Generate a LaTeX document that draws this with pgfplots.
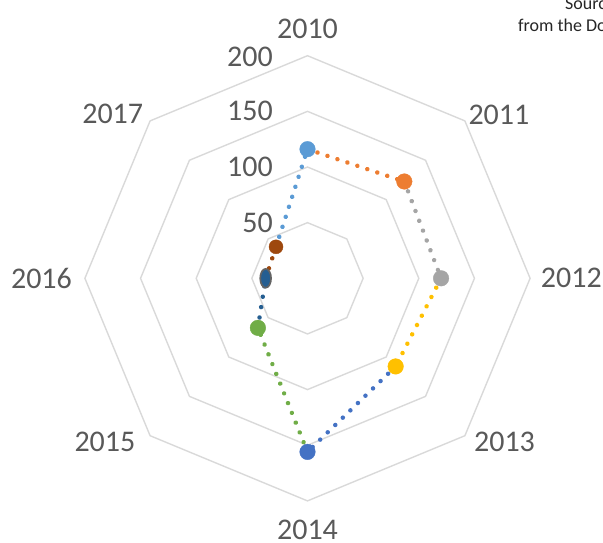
\documentclass[border=0pt]{standalone}
\usepackage{pgfplots}
\pgfplotsset{compat=1.18}
\usepackage{pgfplotstable}
\usepackage{fontspec}
\setmainfont{Carlito}
\definecolor{txt}{HTML}{595959}
\definecolor{gridc}{HTML}{D9D9D9}
\definecolor{ca}{HTML}{5B9BD5}
\definecolor{cb}{HTML}{ED7D31}
\definecolor{cc}{HTML}{A5A5A5}
\definecolor{cd}{HTML}{FFC000}
\definecolor{ce}{HTML}{4472C4}
\definecolor{cf}{HTML}{70AD47}
\definecolor{cg}{HTML}{255E91}
\definecolor{ch}{HTML}{9E480E}
\definecolor{ci}{HTML}{636363}
\pgfplotstableread{
a r
90 116
45 123
0 120
-45 112
-90 156
-135 63
180 37.6
135 40
90 116
}\data
\begin{document}
\begin{tikzpicture}[lab/.style={font=\fontsize{30bp}{36bp}\selectfont, text=txt, inner sep=0pt}]
\useasboundingbox (-307.5bp,-264.7bp) rectangle (295.5bp,278.3bp);
\begin{axis}[x=1.113bp,y=1.113bp,xmin=-220,xmax=220,ymin=-220,ymax=220,
  hide axis, clip=false, anchor=origin, at={(0,0)},
  sel/.style 2 args={x filter/.expression={(\coordindex<#1 || \coordindex>#2) ? nan : x}},
  seg/.style={line width=4.5bp, line cap=round, dash pattern=on 0.01bp off 10.5bp, no markers},
  pt/.style={only marks, mark=*, mark size=7.8bp},
  table/x expr=\thisrow{r}*cos(\thisrow{a}),
  table/y expr=\thisrow{r}*sin(\thisrow{a})]
\pgfplotsinvokeforeach{50,100,150,200}{
  \draw[gridc, line width=1.4bp, line join=miter]
  ({#1*cos(90)},{#1*sin(90)}) -- ({#1*cos(45)},{#1*sin(45)}) --
  ({#1*cos(0)},{#1*sin(0)}) -- ({#1*cos(-45)},{#1*sin(-45)}) --
  ({#1*cos(-90)},{#1*sin(-90)}) -- ({#1*cos(-135)},{#1*sin(-135)}) --
  ({#1*cos(180)},{#1*sin(180)}) -- ({#1*cos(135)},{#1*sin(135)}) -- cycle;
}
\addplot[seg, draw=cb, sel={0}{1}] table {\data};
\addplot[seg, draw=cc, sel={1}{2}] table {\data};
\addplot[seg, draw=cd, sel={2}{3}] table {\data};
\addplot[seg, draw=ce, sel={3}{4}] table {\data};
\addplot[seg, draw=cf, sel={4}{5}] table {\data};
\addplot[seg, draw=cg, sel={5}{6}] table {\data};
\addplot[seg, draw=ch, sel={6}{7}] table {\data};
\addplot[seg, draw=ca, sel={7}{8}] table {\data};
\addplot[pt, draw=ca, fill=ca, sel={0}{0}] table {\data};
\addplot[pt, draw=cb, fill=cb, sel={1}{1}] table {\data};
\addplot[pt, draw=cc, fill=cc, sel={2}{2}] table {\data};
\addplot[pt, draw=cd, fill=cd, sel={3}{3}] table {\data};
\addplot[pt, draw=ce, fill=ce, sel={4}{4}] table {\data};
\addplot[pt, draw=cf, fill=cf, sel={5}{5}] table {\data};
\addplot[only marks, mark=*, mark size=8.2bp, mark options={xscale=0.66, yscale=1.15, draw=ci, fill=cg, line width=1.7bp}, sel={6}{6}] table {\data};
\addplot[pt, mark size=7bp, draw=ch, fill=ch, sel={7}{7}] table {\data};
\node[lab] at (axis cs:0,224) {2010};
\node[lab] at (axis cs:172,147) {2011};
\node[lab] at (axis cs:237,0) {2012};
\node[lab] at (axis cs:177,-147) {2013};
\node[lab] at (axis cs:0,-226) {2014};
\node[lab] at (axis cs:-182,-147) {2015};
\node[lab] at (axis cs:-239,0) {2016};
\node[lab] at (axis cs:-175,148) {2017};
\node[lab, anchor=east] at (axis cs:-31,199) {200};
\node[lab, anchor=east] at (axis cs:-31,150) {150};
\node[lab, anchor=east] at (axis cs:-31,100) {100};
\node[lab, anchor=east] at (axis cs:-31,50) {50};
\end{axis}
\node[anchor=base west, inner sep=0pt, font=\fontsize{18bp}{20bp}\selectfont, text=black!85] at (257.5bp,268.3bp) {Source: data};
\node[anchor=base west, inner sep=0pt, font=\fontsize{18bp}{20bp}\selectfont, text=black!85] at (210.5bp,246.3bp) {from the Dow Jones};
\end{tikzpicture}
\end{document}
